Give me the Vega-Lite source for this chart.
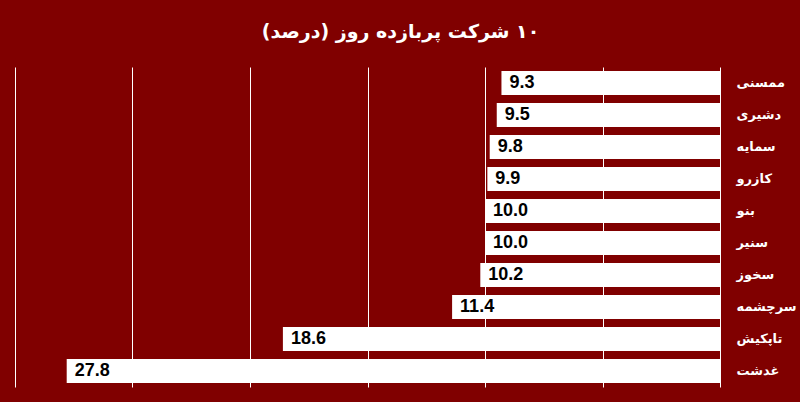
{
  "$schema": "https://vega.github.io/schema/vega-lite/v6.json",
  "width": 705,
  "height": 320,
  "autosize": "none",
  "padding": {"left": 15, "top": 67, "right": 80, "bottom": 15},
  "background": "#800000",
  "config": {"view": {"stroke": null}},
  "title": {
    "text": "\u200F۱۰ شرکت پربازده روز (درصد)\u200F",
    "color": "white",
    "font": "DejaVu Sans",
    "fontSize": 19,
    "fontWeight": "bold",
    "anchor": "middle",
    "frame": "group",
    "dx": 33,
    "offset": 25
  },
  "data": {
    "values": [
      {"name": "ممسنی", "value": 9.3},
      {"name": "دشیری", "value": 9.5},
      {"name": "سمایه", "value": 9.8},
      {"name": "کازرو", "value": 9.9},
      {"name": "بنو", "value": 10.0},
      {"name": "سنیر", "value": 10.0},
      {"name": "سخوز", "value": 10.2},
      {"name": "سرچشمه", "value": 11.4},
      {"name": "تاپکیش", "value": 18.6},
      {"name": "غدشت", "value": 27.8}
    ]
  },
  "encoding": {
    "y": {
      "field": "name",
      "type": "nominal",
      "sort": null,
      "scale": {"paddingInner": 0.25, "paddingOuter": 0.125},
      "axis": {
        "orient": "right",
        "title": null,
        "ticks": false,
        "domain": false,
        "labelColor": "white",
        "labelFont": "DejaVu Sans",
        "labelFontSize": 13,
        "labelFontWeight": "bold",
        "labelAlign": "left",
        "labelPadding": 16,
        "labelLimit": 80
      }
    },
    "x": {
      "field": "value",
      "type": "quantitative",
      "scale": {"domain": [0, 30], "reverse": true, "nice": false},
      "axis": {
        "title": null,
        "labels": false,
        "ticks": false,
        "domain": false,
        "grid": true,
        "gridColor": "white",
        "gridOpacity": 1,
        "gridWidth": 1,
        "values": [0, 5, 10, 15, 20, 25, 30]
      }
    }
  },
  "layer": [
    {"mark": {"type": "bar", "color": "white"}},
    {
      "mark": {
        "type": "text",
        "align": "left",
        "baseline": "middle",
        "dx": 8,
        "color": "black",
        "font": "Liberation Sans",
        "fontSize": 18,
        "fontWeight": "bold"
      },
      "encoding": {
        "text": {"field": "value", "type": "quantitative", "format": ".1f"}
      }
    }
  ]
}
